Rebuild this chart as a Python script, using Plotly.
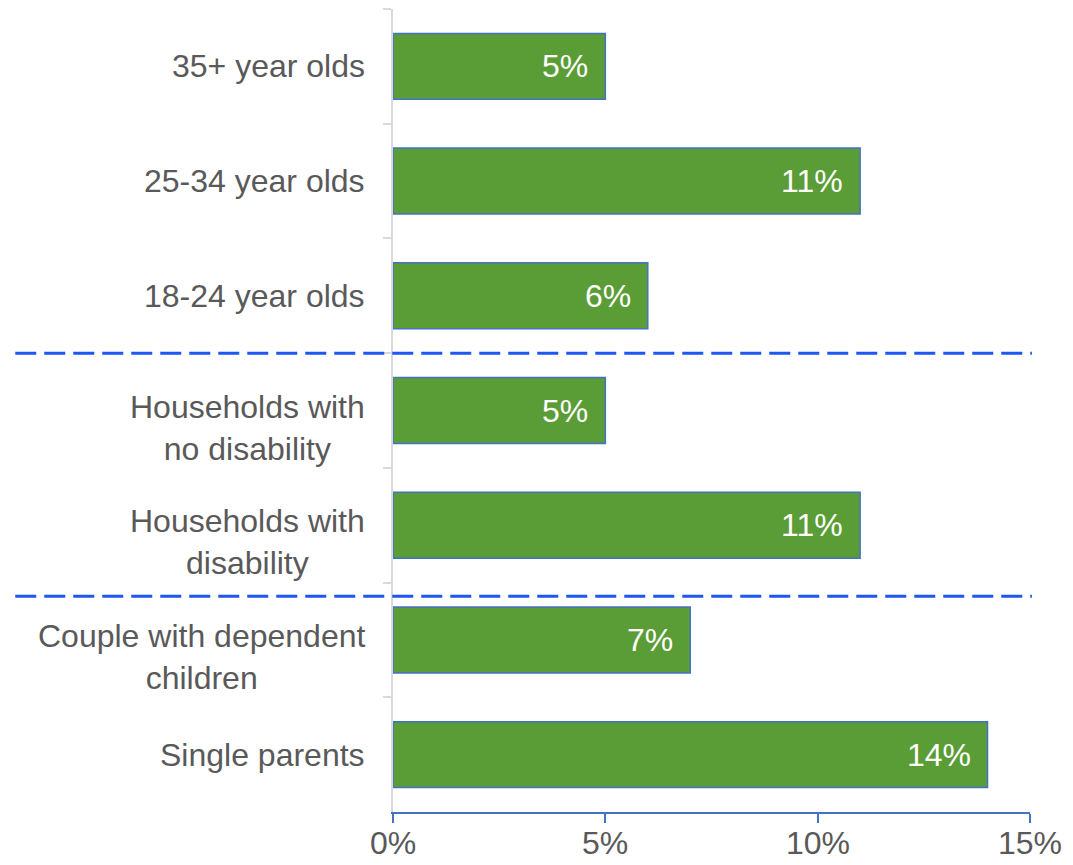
import plotly.graph_objects as go

# Categories from top to bottom
categories = [
    "35+ year olds",
    "25-34 year olds",
    "18-24 year olds",
    "Households with<br>no disability",
    "Households with<br>disability",
    "Couple with dependent<br>children",
    "Single parents",
]
values = [5, 11, 6, 5, 11, 7, 14]
x_ticks = [0, 5, 10, 15]
x_tick_labels = ["0%", "5%", "10%", "15%"]

FONT = "Arial, Liberation Sans, sans-serif"
GREY = "#595959"
BAR_GREEN = "#5A9C35"
BAR_EDGE = "#4472C4"
DASH_BLUE = "#1E56F5"

fig = go.Figure()
fig.add_trace(go.Bar(
    y=categories,
    x=values,
    orientation="h",
    marker=dict(color=BAR_GREEN, line=dict(color=BAR_EDGE, width=1.5)),
    width=0.575,
    hoverinfo="skip",
))

annotations = []
# Value labels inside the bar ends
for cat, v in zip(categories, values):
    annotations.append(dict(
        x=v, y=cat, xref="x", yref="y",
        text=f"{v}%", showarrow=False,
        xanchor="right", yanchor="middle", xshift=-15,
        font=dict(family=FONT, size=32, color="white"),
    ))
# Category labels, lines centred on each other
for cat in categories:
    two_line = "<br>" in cat
    annotations.append(dict(
        x=0, y=cat, xref="paper", yref="y",
        text=cat, showarrow=False,
        xanchor="right", yanchor="middle", align="center",
        xshift=-26, yshift=-17 if two_line else 0,
        font=dict(family=FONT, size=32, color=GREY),
    ))
# Percentage labels under the x axis ticks
for tv, tl in zip(x_ticks, x_tick_labels):
    annotations.append(dict(
        x=tv, y=0, xref="x", yref="paper",
        text=tl, showarrow=False,
        xanchor="center", yanchor="top", yshift=-11,
        font=dict(family=FONT, size=32, color=GREY),
    ))

# Dashed group separators
shapes = [
    dict(type="line", xref="paper", yref="y",
         x0=-0.593, x1=1.003, y0=2.5, y1=2.5,
         line=dict(color=DASH_BLUE, width=3, dash="21px,8px"), layer="above"),
    dict(type="line", xref="paper", yref="y",
         x0=-0.593, x1=1.003, y0=4.62, y1=4.62,
         line=dict(color=DASH_BLUE, width=3, dash="21px,8px"), layer="above"),
]

fig.update_layout(
    width=1073, height=865,
    margin=dict(l=393, r=43, t=9, b=53),
    paper_bgcolor="white", plot_bgcolor="white",
    showlegend=False,
    annotations=annotations,
    shapes=shapes,
    font=dict(family=FONT, color=GREY),
)
fig.update_xaxes(
    range=[0, 15], automargin=False,
    tickvals=x_ticks, showticklabels=False,
    showgrid=False, zeroline=False,
    showline=True, linecolor=BAR_EDGE, linewidth=1.5,
    ticks="outside", ticklen=9, tickcolor=BAR_EDGE, tickwidth=1.5,
)
fig.update_yaxes(
    categoryorder="array", categoryarray=categories,
    autorange="reversed", automargin=False,
    showticklabels=False,
    showgrid=False, zeroline=False,
    showline=True, linecolor="#D9D9D9", linewidth=2,
    ticks="outside", tickson="boundaries", ticklen=8,
    tickcolor="#D9D9D9", tickwidth=2,
)

fig.write_html("out.html")
